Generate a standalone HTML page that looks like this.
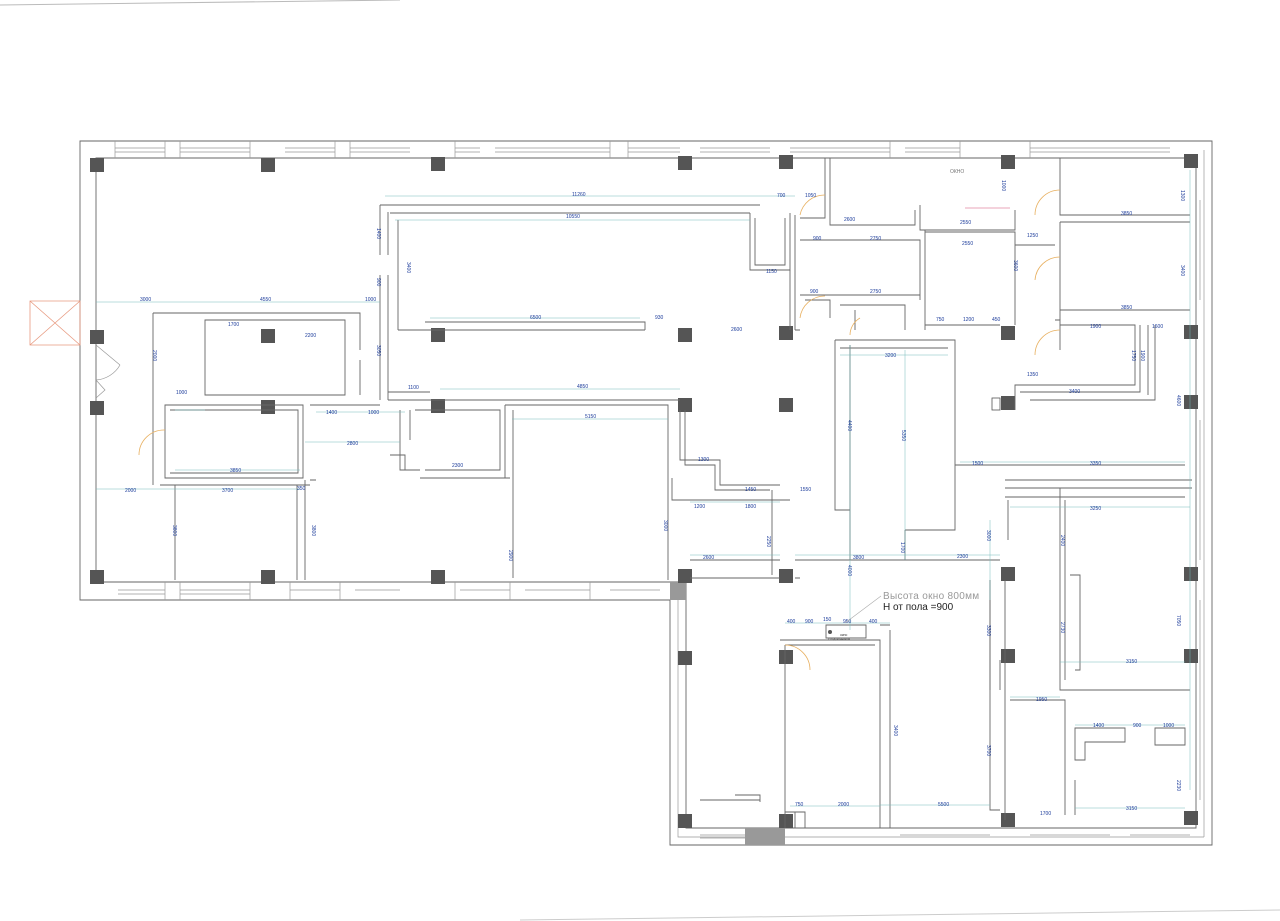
<!DOCTYPE html>
<html><head><meta charset="utf-8"><style>
html,body{margin:0;padding:0;background:#fff;}
svg{display:block}
.w{stroke:#666;stroke-width:0.9;fill:none}
.t{stroke:#999;stroke-width:0.7;fill:none}
.d{stroke:#7bb;stroke-width:0.5;fill:none}
.c{fill:#555}
text{font-family:"Liberation Sans",sans-serif;fill:#1a3a9a;font-size:5px}
.v{writing-mode:tb}
.dr{stroke:#e8b060;stroke-width:0.8;fill:none}
</style></head><body>
<svg width="1280" height="921" viewBox="0 0 1280 921" xmlns="http://www.w3.org/2000/svg">
<path d="M0 5 L400 0" stroke="#bbb" stroke-width="1"/>
<path d="M520 920 L1280 910" stroke="#ccc" stroke-width="1"/>
<path class="w" d="M80 141 H1212 V845 H670 V600 H80 Z"/>
<path class="w" d="M96 158 H1196 V828 H686 V582 H96 Z"/>
<path class="t" d="M1204 150 V837 M678 590 V837 H1204"/>
<g class="t">
<path d="M115 148 H165 M115 152 H165 M180 148 H250 M180 152 H250 M285 148 H335 M285 152 H335 M350 148 H410 M350 152 H410 M455 148 H480 M455 152 H480 M495 148 H610 M495 152 H610 M628 148 H680 M628 152 H680 M700 148 H770 M700 152 H770 M790 148 H890 M790 152 H890 M905 148 H960 M905 152 H960 M1030 148 H1170 M1030 152 H1170"/>
<path d="M115 141 V158 M165 141 V158 M180 141 V158 M250 141 V158 M335 141V158 M350 141 V158 M455 141V158 M610 141V158 M628 141V158 M890 141V158 M960 141V158 M1030 141V158"/>
<path d="M118 590 H165 M118 594 H165 M180 590 H250 M180 594 H250 M290 590 H340 M355 590 H400 M460 590 H510 M525 590 H590 M610 590 H660"/>
<path d="M165 582 V600 M180 582 V600 M250 582V600 M290 582V600 M340 582V600 M455 582V600 M510 582V600 M590 582V600"/>
<path d="M700 835 H745 M700 838 H745 M900 835 H990 M1030 835 H1110 M1130 835 H1190"/>
<path d="M1200 200 V300 M1200 420 V560 M1200 600 V800"/>
</g>
<rect x="670" y="582" width="16" height="18" fill="#999"/>
<rect x="745" y="828" width="40" height="17" fill="#999"/>
<g class="c">
<rect x="90" y="158" width="14" height="14"/><rect x="261" y="158" width="14" height="14"/><rect x="431" y="157" width="14" height="14"/><rect x="678" y="156" width="14" height="14"/><rect x="779" y="155" width="14" height="14"/><rect x="1001" y="155" width="14" height="14"/><rect x="1184" y="154" width="14" height="14"/>
<rect x="90" y="330" width="14" height="14"/><rect x="261" y="329" width="14" height="14"/><rect x="431" y="328" width="14" height="14"/><rect x="678" y="328" width="14" height="14"/><rect x="779" y="326" width="14" height="14"/><rect x="1001" y="326" width="14" height="14"/><rect x="1184" y="325" width="14" height="14"/>
<rect x="90" y="401" width="14" height="14"/><rect x="261" y="400" width="14" height="14"/><rect x="431" y="399" width="14" height="14"/><rect x="678" y="398" width="14" height="14"/><rect x="779" y="398" width="14" height="14"/><rect x="1001" y="396" width="14" height="14"/><rect x="1184" y="395" width="14" height="14"/>
<rect x="90" y="570" width="14" height="14"/><rect x="261" y="570" width="14" height="14"/><rect x="431" y="570" width="14" height="14"/><rect x="678" y="569" width="14" height="14"/><rect x="779" y="569" width="14" height="14"/><rect x="1001" y="567" width="14" height="14"/><rect x="1184" y="567" width="14" height="14"/>
<rect x="678" y="651" width="14" height="14"/><rect x="779" y="650" width="14" height="14"/><rect x="1001" y="649" width="14" height="14"/><rect x="1184" y="649" width="14" height="14"/>
<rect x="678" y="814" width="14" height="14"/><rect x="779" y="814" width="14" height="14"/><rect x="1001" y="813" width="14" height="14"/><rect x="1184" y="811" width="14" height="14"/>
</g>
<path d="M30 301 H80 V345 H30 Z M30 301 L80 345 M80 301 L30 345" stroke="#e89a80" stroke-width="0.8" fill="none"/>
<path class="t" d="M96 345 L120 365 M96 380 L105 390 L96 398"/>
<path class="t" d="M120 365 A30 30 0 0 1 96 380"/>
<g class="w">
<path d="M153 313 H360 V350 M360 360 V395 M153 313 V485"/>
<path d="M205 320 H345 V395 H205 Z"/>
<path d="M165 405 H303 V478 H165 Z M170 410 H298 V473 H170"/>
<path d="M160 485 H310 M297 485 V580 M305 480 V580 M175 485 V580"/>
<path d="M310 405 H380 M310 480 H316"/>
<path d="M380 205 H760 M390 213 H750 M380 205 V255 M388 212 V255 M380 275 V400 M388 275 V400 M398 220 V330 M398 330 H645 M425 322 H645 V330 M388 400 H680 M388 392 H430"/>
<path d="M750 213 V270 H790 V213 M755 218 V265 H785 V218"/>
<path d="M795 215 V330 M790 270 V330 M795 330 H800"/>
<path d="M400 410 V470 H420 M415 410 H500 V470 H425 M410 410 V440 M390 455 H405 V470 M420 478 H510"/>
<path d="M505 405 H668 V580 M513 410 V578 M505 405 V478"/>
<path d="M680 410 V460 H720 V485 H780 M685 410 V465 H715 V490 H770 M672 478 V500 H790 M772 490 V575"/>
<path d="M690 560 H780 M690 578 H780 M795 560 H1000 M795 578 H800"/>
</g>
<g class="w">
<path d="M800 218 H825 V158 M830 158 V225 H915 V210 M920 205 V230 H1015 V210 M925 230 V330 M925 232 H1015 V325"/>
<path d="M800 240 H920 V300 M800 295 H920 M805 300 H830 V318 M840 305 H905 V330 M855 310 V330 M905 310 V325 M925 325 H1000"/>
<path d="M835 340 H955 V530 H905 M840 348 H948 M835 340 V510 H850 M905 530 V560 M850 345 V560"/>
<path d="M955 465 H1185 M1005 480 H1192 M1005 488 H1192 M1005 497 H1185 M1008 500 V540"/>
</g>
<g class="w">
<path d="M1060 158 V215 H1190 M1060 222 H1190 M1060 222 V310 H1190 M1060 305 V320 M1015 245 H1055"/>
<path d="M1055 320 H1060 V350 M1060 325 H1135 V385 H1015 V410 M1140 325 V392 H1020 M1148 325 V395 M1155 325 V400 H1030"/>
<path d="M1060 488 V690 H1190 M1065 500 V680 M1010 700 H1065 V815 M1000 660 V690 M990 580 V690"/>
<path d="M1075 728 H1125 V742 H1085 V760 H1075 Z M1155 728 H1185 V745 H1155 Z M1075 780 V815"/>
<path d="M1070 575 H1080 V670 H1075"/>
</g>
<g class="w">
<path d="M780 640 H880 V828 M785 645 H875 M785 645 V828 M890 630 V828 M880 625 H890"/>
<path d="M826 625 H866 V638 H826 Z M785 812 H805 V828 M795 812 V828"/>
<path d="M990 580 V810 H1000 M1005 580 V820"/>
<path d="M700 800 H760 M735 795 H760 V802"/>
</g>
<circle cx="830" cy="632" r="2" fill="#555"/>
<rect x="992" y="398" width="8" height="12" fill="#fff" stroke="#555" stroke-width="0.8"/>
<g class="dr">
<path d="M139 455 A25 25 0 0 1 165 430"/>
<path d="M810 670 A25 25 0 0 0 785 645"/>
<path d="M800 215 A25 25 0 0 1 825 195"/>
<path d="M800 318 A25 25 0 0 1 825 296"/>
<path d="M1035 215 A25 25 0 0 1 1060 190"/>
<path d="M1035 280 A25 25 0 0 1 1060 257"/>
<path d="M1035 355 A25 25 0 0 1 1060 330"/>
<path d="M850 335 A20 20 0 0 1 860 318"/>
</g>
<path d="M965 208 H1010" stroke="#e088a0" stroke-width="0.8"/>
<g class="d">
<path d="M96 302 H380 M385 196 H795 M395 220 H750 M430 318 H640 M440 389 H680 M512 419 H668 M175 410 H205 M175 470 H300 M96 489 H300 M316 412 H405 M305 442 H400 M690 502 H780 M690 555 H780 M795 555 H1000 M840 355 H948 M960 462 H1185 M1010 507 H1190 M1060 662 H1185 M1010 697 H1060 M1075 725 H1185 M1075 808 H1185 M880 805 H990 M790 806 H880 M785 623 H890"/>
<path d="M850 345 V630 M905 350 V560 M1190 170 V790 M990 520 V600"/>
</g>
<g>
<text x="140" y="301">3000</text><text x="260" y="301">4550</text><text x="365" y="301">1000</text>
<text x="572" y="196">11260</text><text x="566" y="218">10550</text><text x="530" y="319">6500</text><text x="655" y="319">930</text><text x="731" y="331">2600</text>
<text x="577" y="388">4850</text><text x="585" y="418">5150</text><text x="408" y="389">1100</text>
<text x="228" y="326">1700</text><text x="305" y="337">2200</text><text x="176" y="394">1000</text><text x="230" y="472">3850</text>
<text x="125" y="492">2000</text><text x="222" y="492">3700</text><text x="297" y="490">350</text>
<text x="326" y="414">1400</text><text x="368" y="414">1000</text><text x="347" y="445">2800</text><text x="452" y="467">2300</text>
<text x="698" y="461">1300</text><text x="745" y="491">1450</text><text x="800" y="491">1550</text><text x="694" y="508">1200</text><text x="745" y="508">1800</text>
<text x="703" y="559">2600</text><text x="853" y="559">3800</text><text x="957" y="558">2300</text>
<text x="777" y="197">700</text><text x="805" y="197">1050</text><text x="844" y="221">2600</text><text x="813" y="240">900</text><text x="870" y="240">2750</text>
<text x="960" y="224">2550</text><text x="962" y="245">2550</text><text x="810" y="293">900</text><text x="870" y="293">2750</text><text x="766" y="273">1150</text>
<text x="936" y="321">750</text><text x="963" y="321">1200</text><text x="992" y="321">450</text><text x="1027" y="237">1250</text>
<text x="1121" y="215">3850</text><text x="1121" y="309">3850</text><text x="1090" y="328">1900</text><text x="1152" y="328">1600</text>
<text x="1027" y="376">1350</text><text x="1069" y="393">3400</text><text x="885" y="357">3200</text>
<text x="972" y="465">1500</text><text x="1090" y="465">3350</text><text x="1090" y="510">3250</text>
<text x="1126" y="663">3150</text><text x="1036" y="701">1950</text><text x="1093" y="727">1400</text><text x="1133" y="727">900</text><text x="1163" y="727">1000</text>
<text x="1126" y="810">3150</text><text x="1040" y="815">1700</text><text x="938" y="806">5500</text><text x="838" y="806">2000</text><text x="795" y="806">750</text>
<text x="787" y="623">400</text><text x="805" y="623">900</text><text x="823" y="621">150</text><text x="843" y="623">950</text><text x="869" y="623">400</text>
<text x="840" y="636" style="font-size:3.5px;fill:#333">окно</text>
<text x="828" y="640" style="font-size:3px;fill:#333">с подоконником</text>
<text x="950" y="173" style="fill:#777">ОКНО</text>
<text x="883" y="599" style="font-size:10px;fill:#999;letter-spacing:0.3px">Высота окно 800мм</text>
<text x="883" y="610" style="font-size:10px;fill:#222">Н от пола =900</text>
</g>
<path d="M881 596 L845 623" stroke="#aaa" stroke-width="0.6"/>
<g style="font-size:5px">
<text class="v" x="154" y="350">2000</text><text class="v" x="378" y="228">1400</text><text class="v" x="378" y="278">900</text><text class="v" x="408" y="262">3400</text>
<text class="v" x="378" y="345">3050</text><text class="v" x="174" y="525">3800</text><text class="v" x="313" y="525">3800</text><text class="v" x="510" y="550">2900</text>
<text class="v" x="665" y="520">3000</text><text class="v" x="849" y="420">4400</text><text class="v" x="903" y="430">5350</text><text class="v" x="849" y="565">4000</text>
<text class="v" x="1003" y="180">1000</text><text class="v" x="1015" y="260">3600</text><text class="v" x="1182" y="190">1300</text><text class="v" x="1182" y="265">3400</text>
<text class="v" x="1178" y="395">4600</text><text class="v" x="1062" y="535">2400</text><text class="v" x="1062" y="622">2730</text><text class="v" x="1178" y="615">7050</text>
<text class="v" x="988" y="625">3300</text><text class="v" x="988" y="745">3700</text><text class="v" x="895" y="725">3400</text><text class="v" x="1178" y="780">2230</text>
<text class="v" x="768" y="536">2250</text><text class="v" x="902" y="542">1700</text><text class="v" x="988" y="530">3000</text><text class="v" x="1133" y="350">1750</text><text class="v" x="1142" y="350">1900</text>
</g>
</svg>
</body></html>
